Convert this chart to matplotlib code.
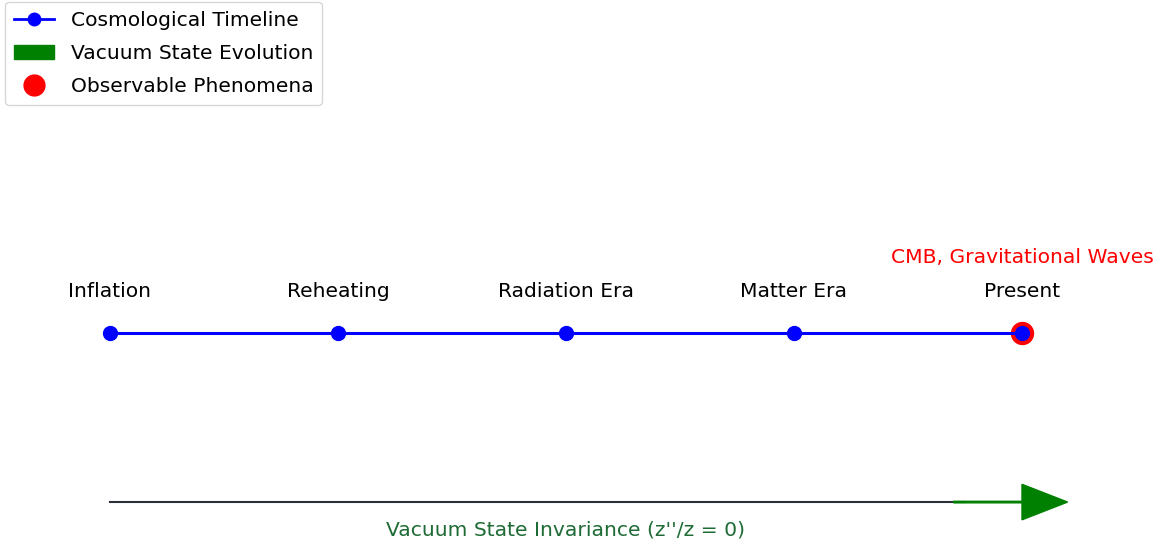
import matplotlib
matplotlib.use("Agg")
import matplotlib.pyplot as plt
from matplotlib.lines import Line2D
from matplotlib.patches import Patch

eras = ["Inflation", "Reheating", "Radiation Era", "Matter Era", "Present"]
era_pos = [0, 1, 2, 3, 4]
timeline_y = [0, 0, 0, 0, 0]
phenomena_pos = [4]
phenomena_label = "CMB, Gravitational Waves"
vacuum_label = "Vacuum State Invariance (z''/z = 0)"

FS = 14.6

fig = plt.figure(figsize=(11.62, 5.45), dpi=100)
ax = fig.add_axes([0, 0, 1, 1])
ax.set_xlim(-0.482, 4.614)
ax.set_ylim(-1.254, 1.97)
ax.axis("off")

ax.plot(era_pos, timeline_y, color="blue", lw=2.2, marker="o", markersize=10, zorder=3)
ax.scatter(phenomena_pos, [0] * len(phenomena_pos), s=250, color="red", zorder=2)

for x, name in zip(era_pos, eras):
    ax.text(x, 0.245, name, ha="center", va="center", fontsize=FS, color="black")
for x in phenomena_pos:
    ax.text(x, 0.445, phenomena_label, ha="center", va="center", fontsize=FS, color="red")

# Vacuum state arrow
ax.plot([0, 3.75], [-1, -1], color="#2b2f3a", lw=1.5, zorder=1)
ax.arrow(3.7, -1, 0.3, 0, width=0.009, head_width=0.21, head_length=0.2,
         length_includes_head=False, color="green", zorder=2)
ax.text(2, -1.168, vacuum_label, ha="center", va="center", fontsize=FS, color="#1e6b35")

handles = [
    Line2D([0], [0], color="blue", lw=2, marker="o", markersize=9),
    Patch(color="green"),
    Line2D([0], [0], color="red", marker="o", linestyle="none", markersize=15),
]
labels = ["Cosmological Timeline", "Vacuum State Evolution", "Observable Phenomena"]
fig.legend(handles, labels, loc="upper left", bbox_to_anchor=(0.004, 0.996),
           fontsize=FS, frameon=True, borderaxespad=0, handlelength=2.0,
           labelspacing=0.68, borderpad=0.45)

fig.savefig("out.png", dpi=100)
